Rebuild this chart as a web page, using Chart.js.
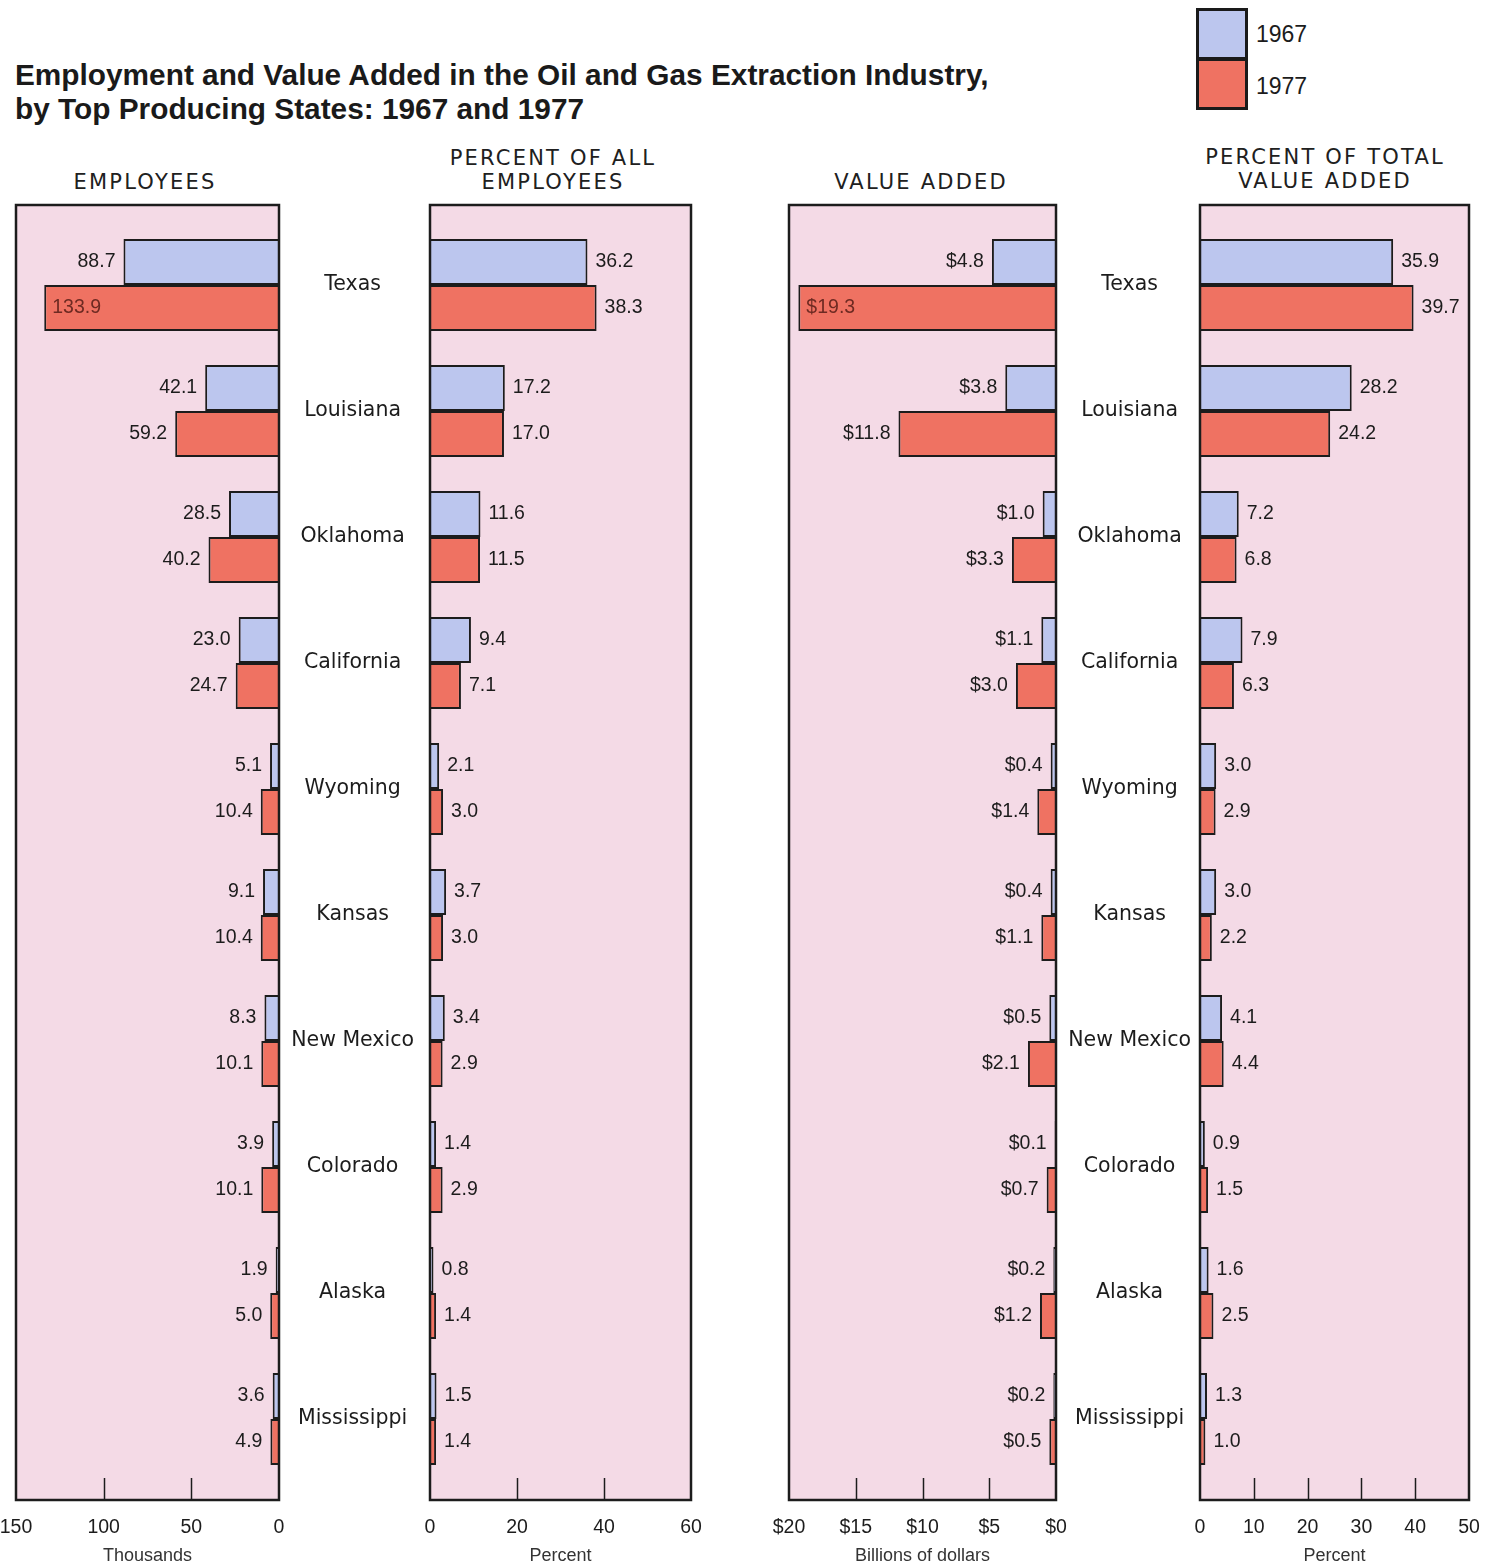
<!DOCTYPE html>
<html><head><meta charset="utf-8">
<script src="https://cdn.jsdelivr.net/npm/chart.js@4"></script>
<style>
body{margin:0;background:#fff;width:1499px;height:1564px;position:relative;overflow:hidden;font-family:'Liberation Sans',Arial,sans-serif;color:#1c1c1c;}
canvas{position:absolute;top:0;}
.title{position:absolute;left:15px;top:58px;font:bold 29.8px 'Liberation Sans',Arial,sans-serif;line-height:34px;white-space:nowrap;color:#1a1a1a;}
.hdr{position:absolute;width:340px;text-align:center;font:21px 'DejaVu Sans',sans-serif;letter-spacing:2.2px;line-height:24px;color:#202020;}
.lg{position:absolute;left:1196px;width:46px;height:46px;border:3px solid #1a1a1a;}
.lgt{position:absolute;left:1256px;font:23px 'Liberation Sans',Arial,sans-serif;line-height:26px;}
</style></head>
<body>
<div class="title">Employment and Value Added in the Oil and Gas Extraction Industry,<br>by Top Producing States: 1967 and 1977</div>
<div class="lg" style="top:8px;background:#bcc6ee;"></div>
<div class="lg" style="top:58px;background:#ef7262;"></div>
<div class="lgt" style="top:21px;">1967</div>
<div class="lgt" style="top:73px;">1977</div>
<div class="hdr" style="left:-25px;top:170px;">EMPLOYEES</div>
<div class="hdr" style="left:383px;top:146px;">PERCENT OF ALL<br>EMPLOYEES</div>
<div class="hdr" style="left:751px;top:170px;">VALUE ADDED</div>
<div class="hdr" style="left:1155px;top:145px;">PERCENT OF TOTAL<br>VALUE ADDED</div>
<canvas id="c1" width="300" height="1564" style="left:0px"></canvas>
<canvas id="c2" width="430" height="1564" style="left:280px"></canvas>
<canvas id="c3" width="310" height="1564" style="left:760px"></canvas>
<canvas id="c4" width="443" height="1564" style="left:1056px"></canvas>
<script>
const states = ['Texas','Louisiana','Oklahoma','California','Wyoming','Kansas','New Mexico','Colorado','Alaska','Mississippi'];
const years = ['1967','1977'];
const emp1967 = [88.7, 42.1, 28.5, 23.0, 5.1, 9.1, 8.3, 3.9, 1.9, 3.6];
const emp1977 = [133.9, 59.2, 40.2, 24.7, 10.4, 10.4, 10.1, 10.1, 5.0, 4.9];
const pctEmp1967 = [36.2, 17.2, 11.6, 9.4, 2.1, 3.7, 3.4, 1.4, 0.8, 1.5];
const pctEmp1977 = [38.3, 17.0, 11.5, 7.1, 3.0, 3.0, 2.9, 2.9, 1.4, 1.4];
const va1967 = [4.8, 3.8, 1.0, 1.1, 0.4, 0.4, 0.5, 0.1, 0.2, 0.2];
const va1977 = [19.3, 11.8, 3.3, 3.0, 1.4, 1.1, 2.1, 0.7, 1.2, 0.5];
const pctVa1967 = [35.9, 28.2, 7.2, 7.9, 3.0, 3.0, 4.1, 0.9, 1.6, 1.3];
const pctVa1977 = [39.7, 24.2, 6.8, 6.3, 2.9, 2.2, 4.4, 1.5, 2.5, 1.0];

const BLUE = '#bcc6ee', RED = '#ef7262', PINK = '#f4dae6', INK = '#1c1c1c';
const NUMFONT = "19.5px 'Liberation Sans', Arial, sans-serif";
const panelCfg = {};

const panelPlugin = {
  id: 'panel',
  beforeDatasetsDraw(chart) {
    const {ctx, chartArea: a} = chart;
    ctx.save();
    ctx.fillStyle = PINK;
    ctx.fillRect(a.left, a.top - 17, a.right - a.left, a.bottom - a.top + 35);
    ctx.restore();
  },
  afterDatasetsDraw(chart) {
    const {ctx, chartArea: a} = chart;
    const o = panelCfg[chart.canvas.id];
    const xs = chart.scales.x;
    const boxTop = a.top - 17, boxBot = a.bottom + 18;
    ctx.save();
    ctx.strokeStyle = INK; ctx.lineWidth = 1.5;
    xs.ticks.forEach(t => {
      if (t.value === xs.min || t.value === xs.max) return;
      const px = Math.round(xs.getPixelForValue(t.value)) + 0.5;
      ctx.beginPath(); ctx.moveTo(px, boxBot); ctx.lineTo(px, boxBot - 22); ctx.stroke();
    });
    ctx.lineWidth = 2.5;
    ctx.strokeRect(a.left, boxTop, a.right - a.left, boxBot - boxTop);
    ctx.font = NUMFONT; ctx.textBaseline = 'middle';
    chart.data.datasets.forEach((ds, di) => {
      const meta = chart.getDatasetMeta(di);
      meta.data.forEach((el, i) => {
        const txt = o.fmt(ds.data[i]);
        const w = ctx.measureText(txt).width;
        if (o.side === 'left') {
          if (el.x - 8 - w < a.left) {
            ctx.fillStyle = '#6e2a22'; ctx.textAlign = 'left';
            ctx.fillText(txt, el.x + 8, el.y);
          } else {
            ctx.fillStyle = INK; ctx.textAlign = 'right';
            ctx.fillText(txt, el.x - 8, el.y);
          }
        } else {
          ctx.fillStyle = INK; ctx.textAlign = 'left';
          ctx.fillText(txt, el.x + 8, el.y);
        }
      });
    });
    ctx.restore();
  }
};

function makePanel(id, d1, d2, cfg) {
  panelCfg[id] = cfg;
  new Chart(document.getElementById(id), {
    type: 'bar',
    data: {
      labels: states,
      datasets: [
        {label: years[0], data: d1, backgroundColor: BLUE, borderColor: INK, borderWidth: 2},
        {label: years[1], data: d2, backgroundColor: RED, borderColor: INK, borderWidth: 2}
      ]
    },
    options: {
      indexAxis: 'y',
      responsive: false,
      animation: false,
      devicePixelRatio: 1,
      layout: {padding: {top: 222, bottom: 0, left: cfg.padL, right: cfg.padR}},
      datasets: {bar: {categoryPercentage: 92/126, barPercentage: 1}},
      scales: {
        x: {
          type: 'linear', min: 0, max: cfg.max, reverse: cfg.reverse,
          afterFit: s => { s.height = 82; s.paddingLeft = 0; s.paddingRight = 0; },
          grid: {display: false, drawTicks: false},
          border: {display: false},
          ticks: {stepSize: cfg.step, autoSkip: false, maxRotation: 0, padding: 34,
                  color: INK, font: {family: "'Liberation Sans', Arial, sans-serif", size: 19.5},
                  callback: cfg.tick},
          title: {display: true, text: cfg.unit, color: '#333', padding: {top: 0, bottom: -3},
                  font: {family: "'Liberation Sans', Arial, sans-serif", size: 18}}
        },
        y: {
          type: 'category',
          display: cfg.showY,
          afterFit: s => { s.width = cfg.yW; s.paddingTop = 0; s.paddingBottom = 0; },
          grid: {display: false, drawTicks: false},
          border: {display: false},
          ticks: {crossAlign: 'center', padding: cfg.yPad, color: INK,
                  font: {family: "'DejaVu Sans', sans-serif", size: 20.5}}
        }
      },
      plugins: {
        legend: {display: false},
        tooltip: {enabled: false}
      }
    },
    plugins: [panelPlugin]
  });
}

const f1 = v => v.toFixed(1);
const fD = v => '$' + v.toFixed(1);

makePanel('c1', emp1967, emp1977, {max: 150, step: 50, reverse: true, padL: 16, padR: 21, showY: false, yW: 0, yPad: 0,
  unit: 'Thousands', fmt: f1, side: 'left', tick: v => String(v)});
makePanel('c2', pctEmp1967, pctEmp1977, {max: 60, step: 20, reverse: false, padL: 0, padR: 19, showY: true, yW: 150, yPad: 16,
  unit: 'Percent', fmt: f1, side: 'right', tick: v => String(v)});
makePanel('c3', va1967, va1977, {max: 20, step: 5, reverse: true, padL: 29, padR: 14, showY: false, yW: 0, yPad: 0,
  unit: 'Billions of dollars', fmt: fD, side: 'left', tick: v => '$' + v});
makePanel('c4', pctVa1967, pctVa1977, {max: 50, step: 10, reverse: false, padL: 0, padR: 30, showY: true, yW: 144, yPad: 9,
  unit: 'Percent', fmt: f1, side: 'right', tick: v => String(v)});
</script>
</body></html>
